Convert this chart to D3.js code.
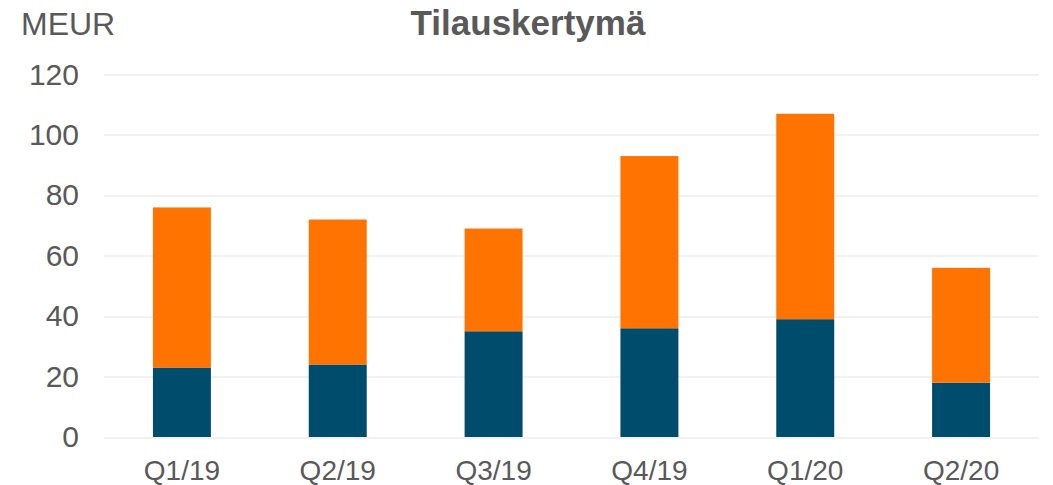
<!DOCTYPE html>
<html>
<head>
<meta charset="utf-8">
<script src="https://cdn.jsdelivr.net/npm/d3@7"></script>
<style>
  html, body { margin: 0; padding: 0; background: #fff; }
  svg { display: block; font-family: "Liberation Sans", Arial, sans-serif; }
</style>
</head>
<body>
<div id="chart"></div>
<script>
// quarters and the two stacked series (MEUR)
const quarters = ["Q1/19", "Q2/19", "Q3/19", "Q4/19", "Q1/20", "Q2/20"];
const lowerValues = [23, 24, 35, 36, 39, 18];
const upperValues = [53, 48, 34, 57, 68, 38];
const yTicks = [0, 20, 40, 60, 80, 100, 120];

const width = 1053, height = 485;
const margin = { top: 74.5, right: 14, bottom: 48, left: 104 };
const innerW = width - margin.left - margin.right;
const innerH = height - margin.top - margin.bottom;

const svg = d3.select("#chart")
  .append("svg")
  .attr("width", width)
  .attr("height", height);

const g = svg.append("g")
  .attr("transform", `translate(${margin.left},${margin.top})`);

const x = d3.scaleBand()
  .domain(quarters)
  .range([0, innerW])
  .paddingInner(0.628)
  .paddingOuter(0.314);

const y = d3.scaleLinear()
  .domain([0, 120])
  .range([innerH, 0]);

// gridlines
g.append("g")
  .selectAll("line")
  .data(yTicks)
  .join("line")
  .attr("x1", 0)
  .attr("x2", innerW)
  .attr("y1", d => Math.round(y(d)) + 0.5)
  .attr("y2", d => Math.round(y(d)) + 0.5)
  .attr("stroke", "#e3e3e3")
  .attr("stroke-width", 1);

// y axis labels
const yAxis = g.append("g")
  .attr("transform", "translate(-25,0)")
  .call(d3.axisLeft(y).tickValues(yTicks).tickSize(0).tickPadding(0));
yAxis.select(".domain").remove();
yAxis.selectAll("text")
  .attr("fill", "#595959")
  .attr("font-size", 30)
  .attr("font-family", "Liberation Sans, Arial, sans-serif");

// x axis labels
const xAxis = g.append("g")
  .attr("transform", `translate(0,${innerH})`)
  .call(d3.axisBottom(x).tickSize(0).tickPadding(0));
xAxis.select(".domain").remove();
xAxis.selectAll("text")
  .attr("dy", null)
  .attr("y", 42.5)
  .attr("fill", "#595959")
  .attr("font-size", 28)
  .attr("font-family", "Liberation Sans, Arial, sans-serif");

// stacked bars
const rows = quarters.map((q, i) => ({ q, lower: lowerValues[i], upper: upperValues[i] }));
const stack = d3.stack().keys(["lower", "upper"])(rows);
const colors = { lower: "#004c6c", upper: "#ff7300" };

g.append("g")
  .selectAll("g")
  .data(stack)
  .join("g")
  .attr("fill", d => colors[d.key])
  .selectAll("rect")
  .data(d => d)
  .join("rect")
  .attr("x", d => x(d.data.q))
  .attr("width", x.bandwidth())
  .attr("y", d => y(d[1]))
  .attr("height", d => y(d[0]) - y(d[1]));

// unit label and title
svg.append("text")
  .attr("x", 21)
  .attr("y", 35)
  .attr("fill", "#595959")
  .attr("font-size", 32)
  .text("MEUR");

svg.append("text")
  .attr("x", 528)
  .attr("y", 34.5)
  .attr("text-anchor", "middle")
  .attr("fill", "#595959")
  .attr("font-size", 35)
  .attr("font-weight", "bold")
  .text("Tilauskertymä");
</script>
</body>
</html>
